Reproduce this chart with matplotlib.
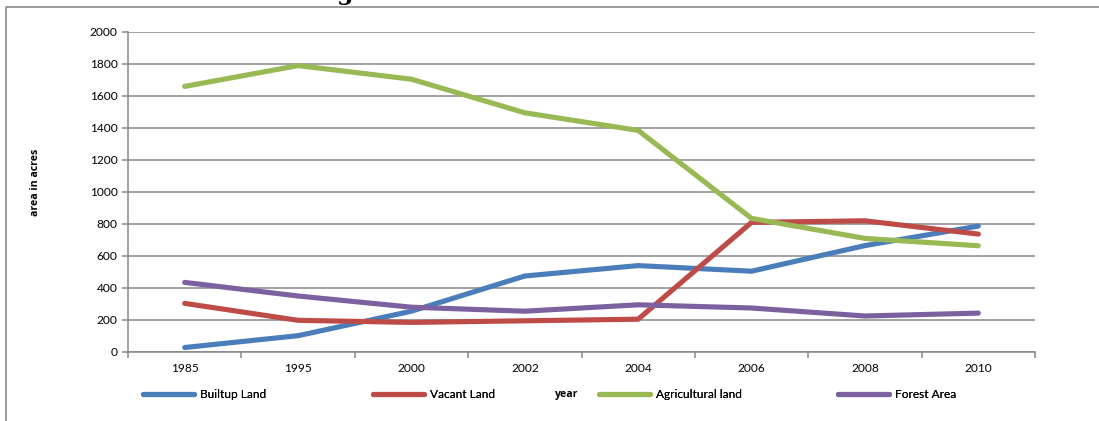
import numpy as np
import matplotlib.pyplot as plt
from matplotlib.lines import Line2D

plt.rcParams['font.family'] = ['Lato', 'DejaVu Sans']

years = ["1985", "1995", "2000", "2002", "2004", "2006", "2008", "2010"]
builtup = [28, 102, 255, 475, 540, 505, 665, 787]
vacant = [304, 198, 185, 195, 205, 810, 820, 737]
agricultural = [1660, 1790, 1705, 1495, 1385, 835, 710, 664]
forest = [435, 350, 280, 255, 295, 275, 225, 243]

names = ["Builtup Land", "Vacant Land", "Agricultural land", "Forest Area"]
colors = ["#4A7EBB", "#BE4B48", "#98B954", "#7D60A0"]

W, H = 1099, 421
fig = plt.figure(figsize=(W / 100, H / 100), dpi=100)
ax = fig.add_axes([128 / W, 1 - 352 / H, (1035 - 128) / W, (352 - 32) / H])

x = np.arange(len(years))
lines = []
for vals, name, c in zip([builtup, vacant, agricultural, forest], names, colors):
    ln, = ax.plot(x, vals, color=c, lw=3.7, solid_capstyle="round",
                  solid_joinstyle="round", label=name, zorder=3)
    lines.append(ln)

grey = "#878787"
fs = 8.6
ax.set_ylim(0, 2000)
ax.set_yticks(np.arange(0, 2001, 200))
ax.set_xlim(-0.5, len(years) - 0.5)
ax.set_xticks(x)
ax.set_xticklabels(years)
ax.set_xticks(np.arange(-0.5, len(years), 1), minor=True)
ax.yaxis.grid(True, color=grey, lw=1.1)
ax.set_axisbelow(True)
for s in ["top", "right"]:
    ax.spines[s].set_visible(False)
for s in ["left", "bottom"]:
    ax.spines[s].set_color(grey)
    ax.spines[s].set_linewidth(1.1)
ax.tick_params(axis="y", length=4.5, width=1.1, color=grey, labelsize=fs, pad=3)
ax.tick_params(axis="x", which="major", length=0, labelsize=fs, pad=8)
ax.tick_params(axis="x", which="minor", length=4, width=1.1, color=grey)

bold = dict(fontsize=7.6, fontweight="bold", family=["Open Sans", "DejaVu Sans"])
fig.text(36 / W, 1 - 182 / H, "area in acres", rotation=90,
         ha="center", va="center", **bold)
fig.text(567 / W, 1 - 394 / H, "year", ha="center", va="center", **bold)

# one legend entry per series along the bottom
legend_x = [143, 373, 599, 838]
for ln, lx in zip(lines, legend_x):
    lg = fig.legend(handles=[ln], loc="center left", bbox_to_anchor=(lx / W, 1 - 395 / H),
                    frameon=False, fontsize=fs, handlelength=4.3, handletextpad=0.45,
                    borderaxespad=0, borderpad=0)
    fig.add_artist(lg)

# outer frame
fig.add_artist(Line2D([6 / W, 6 / W, 1], [0, 1 - 7 / H, 1 - 7 / H],
                      transform=fig.transFigure, color="#8a8a8a", lw=1.2))
fig.text(345 / W, 1.0, "g", fontsize=17, fontweight="bold", family="DejaVu Serif",
         ha="center", va="baseline")

fig.savefig("out.png", dpi=100)
